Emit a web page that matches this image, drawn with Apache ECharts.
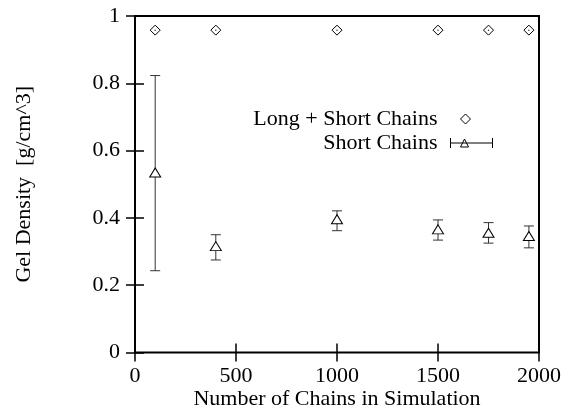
<!DOCTYPE html>
<html>
<head>
<meta charset="utf-8">
<script src="https://cdn.jsdelivr.net/npm/echarts@6/dist/echarts.min.js"></script>
<style>html,body{margin:0;padding:0;background:#fff}#c{width:564px;height:412px}</style>
</head>
<body>
<div id="c"></div>
<script>
// Data
const longX = [100, 400, 1000, 1500, 1750, 1950];
const longY = [0.958, 0.958, 0.958, 0.958, 0.958, 0.958];
const shortX = [100, 400, 1000, 1500, 1750, 1950];
const shortY = [0.535, 0.316, 0.396, 0.366, 0.356, 0.346];
const shortLow = [0.243, 0.275, 0.362, 0.334, 0.325, 0.311];
const shortHigh = [0.823, 0.350, 0.421, 0.394, 0.386, 0.376];
const xTicks = [0, 500, 1000, 1500, 2000];
const yTicks = [0, 0.2, 0.4, 0.6, 0.8, 1];

const FONT = 'Liberation Serif';
const FS = 22;
const longData = longX.map((x, i) => [x, longY[i]]);
const shortData = shortX.map((x, i) => [x, shortY[i]]);
const errData = shortX.map((x, i) => [x, shortLow[i], shortHigh[i]]);

const chart = echarts.init(document.getElementById('c'), null, {renderer: 'canvas'});
const tickCommon = {show: true, inside: true, length: 9, lineStyle: {color: '#000', width: 1.5}};
const option = {
  animation: false,
  backgroundColor: '#fff',
  textStyle: {fontFamily: FONT, color: '#000'},
  grid: {left: 135, right: 25, top: 16, bottom: 59.5, containLabel: false, outerBoundsMode: 'none',
    show: true, borderColor: '#000', borderWidth: 2, backgroundColor: 'transparent'},
  xAxis: [{
    type: 'value', min: xTicks[0], max: xTicks[xTicks.length - 1], interval: 500, position: 'bottom',
    name: 'Number of Chains in Simulation', nameLocation: 'middle', nameGap: 36, nameMoveOverlap: false,
    nameTextStyle: {fontFamily: FONT, fontSize: FS, color: '#000'},
    axisLine: {show: false}, axisTick: tickCommon, splitLine: {show: false},
    axisLabel: {fontFamily: FONT, fontSize: FS, color: '#000', margin: 13, formatter: v => String(v)}
  }, {
    type: 'value', min: xTicks[0], max: xTicks[xTicks.length - 1], interval: 500, position: 'top',
    axisLine: {show: false}, axisTick: tickCommon, splitLine: {show: false}, axisLabel: {show: false}
  }],
  yAxis: [{
    type: 'value', min: yTicks[0], max: yTicks[yTicks.length - 1], interval: 0.2, position: 'left',
    name: 'Gel Density  [g/cm^3]', nameLocation: 'middle', nameGap: 100, nameRotate: 90,
    nameTextStyle: {fontFamily: FONT, fontSize: FS, color: '#000'},
    axisLine: {show: false}, axisTick: tickCommon, splitLine: {show: false},
    axisLabel: {fontFamily: FONT, fontSize: FS, color: '#000', margin: 15,
      formatter: v => String(+v.toFixed(1))}
  }, {
    type: 'value', min: yTicks[0], max: yTicks[yTicks.length - 1], interval: 0.2, position: 'right',
    axisLine: {show: false}, axisTick: tickCommon, splitLine: {show: false}, axisLabel: {show: false}
  }],
  legend: [{
    data: [{name: 'Long + Short Chains', icon: 'diamond', itemStyle: {color: '#fff', borderColor: '#000', borderWidth: 1}}],
    align: 'right', orient: 'vertical', right: 88, top: 103,
    itemWidth: 10, itemHeight: 10,
    textStyle: {fontFamily: FONT, fontSize: FS, color: '#000', padding: [0, 18, 0, 0]},
    selectedMode: false
  }, {
    data: [{name: 'Short Chains', icon: 'path://M0,0L0,10M0,5L42,5M42,0L42,10M10,9L14,1L18,9Z', itemStyle: {color: 'none', borderColor: '#000', borderWidth: 1}}],
    align: 'right', orient: 'vertical', right: 64, top: 127,
    itemWidth: 42, itemHeight: 10,
    textStyle: {fontFamily: FONT, fontSize: FS, color: '#000', padding: [0, 8, 0, 0]},
    selectedMode: false
  }],
  series: [{
    name: 'Long + Short Chains', type: 'scatter', data: longData,
    symbol: 'diamond', symbolSize: 10,
    itemStyle: {color: '#fff', borderColor: '#000', borderWidth: 1, opacity: 1}
  }, {
    name: 'longDot', type: 'scatter', data: longData, symbol: 'circle', symbolSize: 1.5,
    itemStyle: {color: '#000'}, silent: true
  }, {
    name: 'Short Chains', type: 'custom', data: errData,
    itemStyle: {color: '#000'},
    renderItem: function (params, api) {
      const x = api.value(0);
      const lo = api.coord([x, api.value(1)]);
      const hi = api.coord([x, api.value(2)]);
      const w = 5;
      const st = {stroke: '#333', lineWidth: 1, fill: null};
      return {type: 'group', children: [
        {type: 'line', shape: {x1: lo[0], y1: lo[1], x2: hi[0], y2: hi[1]}, style: st},
        {type: 'line', shape: {x1: lo[0] - w, y1: lo[1], x2: lo[0] + w, y2: lo[1]}, style: st},
        {type: 'line', shape: {x1: hi[0] - w, y1: hi[1], x2: hi[0] + w, y2: hi[1]}, style: st}
      ]};
    }
  }, {
    name: 'shortPts', type: 'scatter', data: shortData, symbol: 'triangle', symbolSize: [11, 9],
    itemStyle: {color: '#fff', borderColor: '#000', borderWidth: 1, opacity: 1}, z: 5
  }]
};
chart.setOption(option);
</script>
</body>
</html>
